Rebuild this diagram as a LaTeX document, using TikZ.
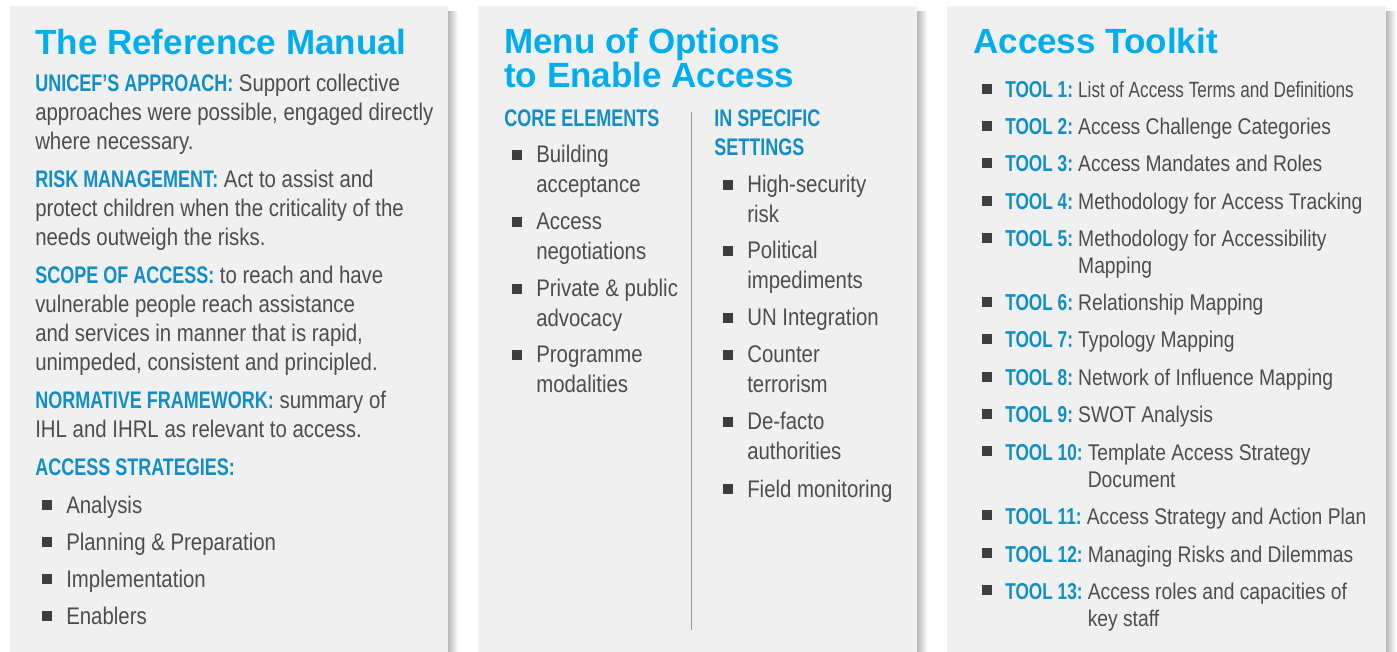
\documentclass[tikz,border=0pt]{standalone}
\usepackage{fontspec}
\setmainfont[FakeStretch=0.85]{Liberation Sans}
\newfontfamily\wideface{Liberation Sans}
\newfontfamily\headface[FakeStretch=0.75]{Liberation Sans}
\newfontfamily\tightface[FakeStretch=0.78]{Liberation Sans}
\definecolor{cyantitle}{RGB}{0,174,239}
\definecolor{bluehead}{RGB}{18,142,198}
\definecolor{textgray}{RGB}{77,77,77}
\definecolor{panelgray}{RGB}{240,240,240}
\newcommand{\lbl}[1]{{\headface\bfseries\color{bluehead}#1}}
\tikzset{
  panel/.style={fill=panelgray},
  heading/.style={anchor=base west, inner sep=0pt, text=cyantitle,
      font=\wideface\bfseries\fontsize{26.25}{26.25}\selectfont},
  txt/.style={anchor=base west, inner sep=0pt, text=textgray,
      font=\fontsize{18}{21.75}\selectfont},
  tooltxt/.style={txt, font=\fontsize{17}{20.25}\selectfont},
  sub/.style={txt, text=bluehead, font=\headface\bfseries\fontsize{18}{21.75}\selectfont},
  toolsub/.style={sub, font=\headface\bfseries\fontsize{17.25}{20.25}\selectfont},
  square/.style={fill=textgray!80!black, minimum size=7.2pt, inner sep=0pt}
}

\begin{document}
\begin{tikzpicture}[x=0.75pt, y=-0.75pt]
    \fill[white] (0,0) rectangle (1397,652);
    \useasboundingbox (0,0) rectangle (1397,652);
    \foreach \xa/\xb in {10/448, 478/917, 947/1386} {
        \shade[left color=black!28, right color=white] (\xb,12) rectangle (\xb+10,652);
        \fill[panel] (\xa,6) rectangle (\xb,652);
    }

    \node[heading] (reftitle) at (35,55) {The Reference Manual};
    \foreach \y/\t [count=\i] in {
        92/{\lbl{UNICEF’S APPROACH:} Support collective},
        121/{approaches were possible, engaged directly},
        150/{where necessary.},
        188/{\lbl{RISK MANAGEMENT:} Act to assist and},
        217/{protect children when the criticality of the},
        246/{needs outweigh the risks.},
        284/{\lbl{SCOPE OF ACCESS:} to reach and have},
        313/{vulnerable people reach assistance},
        342/{and services in manner that is rapid,},
        371/{unimpeded, consistent and principled.},
        409/{\lbl{NORMATIVE FRAMEWORK:} summary of},
        438/{IHL and IHRL as relevant to access.}}
        \node[txt] (ref\i) at (35,\y) {\t};
    \node[sub] (strat) at (35,475) {ACCESS STRATEGIES:};
    \foreach \y/\t [count=\i] in {513/Analysis, 550/{Planning \& Preparation}, 587/Implementation, 624/Enablers} {
        \node[square] (stratb\i) at (47,\y-8) {};
        \node[txt] (strat\i) at (66,\y) {\t};
    }

    \node[heading] (menutitle) at (504,54) {Menu of Options};
    \node[heading] (menutitle2) at (504,88) {to Enable Access};
    \node[sub] (core) at (504,127) {CORE ELEMENTS};
    \node[sub] (spec) at (714,127) {IN SPECIFIC};
    \node[sub] (spec2) at (714,156) {SETTINGS};
    \coordinate (divtop) at (691,112);
    \coordinate (divbot) at (691,630);
    \draw[black!40, line width=0.75pt] (divtop) -- (divbot);
    \foreach \y/\a/\b [count=\i] in {163/Building/acceptance, 230/Access/negotiations,
        297/{Private \& public}/advocacy, 363/Programme/modalities} {
        \node[square] (coreb\i) at (517,\y-8) {};
        \node[txt] (core\i) at (536,\y) {\a};
        \node[txt] (corec\i) at (536,\y+29.5) {\b};
    }
    \foreach \y/\a/\b [count=\i] in {193/High-security/risk, 259/Political/impediments,
        363/Counter/terrorism, 430/De-facto/authorities} {
        \node[square] (specb\i) at (728,\y-8) {};
        \node[txt] (spec\i) at (747,\y) {\a};
        \node[txt] (specc\i) at (747,\y+29.5) {\b};
    }
    \node[square] (specun) at (728,318) {};
    \node[txt] (specuntxt) at (747,326) {UN Integration};
    \node[square] (specfield) at (728,489) {};
    \node[txt] (specfieldtxt) at (747,497) {Field monitoring};

    \node[heading] (tooltitle) at (973,54) {Access Toolkit};
    \foreach \y/\t [count=\i] in {
        98/{{\tightface\fontsize{16.5}{18}\selectfont List of Access Terms and Definitions}},
        135/{Access Challenge Categories},
        172/{Access Mandates and Roles},
        210/{Methodology for Access Tracking},
        247/{Methodology for Accessibility},
        311/{Relationship Mapping},
        348/{Typology Mapping},
        386/{Network of Influence Mapping},
        423/{SWOT Analysis},
        460/{Template Access Strategy},
        524/{Access Strategy and Action Plan},
        562/{Managing Risks and Dilemmas},
        599/{Access roles and capacities of}} {
        \node[square] (toolb\i) at (987,\y-9) {};
        \node[toolsub] (tooll\i) at (1005,\y) {TOOL \i:};
        \node[tooltxt] (tool\i) at ([xshift=3.5pt]tooll\i.base east) {\t};
    }
    \node[tooltxt] (tool5c) at ([yshift=-20.25pt]tool5.base west) {Mapping};
    \node[tooltxt] (tool10c) at ([yshift=-20.25pt]tool10.base west) {Document};
    \node[tooltxt] (tool13c) at ([yshift=-20.25pt]tool13.base west) {key staff};
\end{tikzpicture}
\end{document}
